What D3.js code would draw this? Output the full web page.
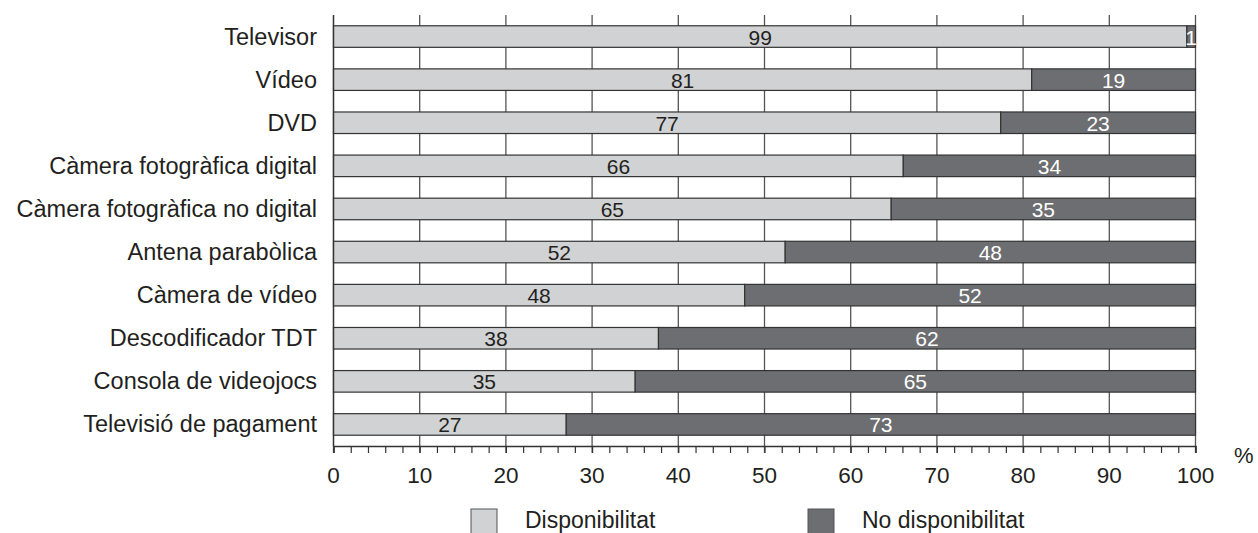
<!DOCTYPE html>
<html>
<head>
<meta charset="utf-8">
<script src="https://cdn.jsdelivr.net/npm/d3@7"></script>
<style>
  body { margin: 0; background: #fff; }
  text { font-family: "Liberation Sans", Arial, sans-serif; fill: #231f20; }
</style>
</head>
<body>
<svg id="chart"></svg>
<script>
var categories = [
  "Televisor", "Vídeo", "DVD", "Càmera fotogràfica digital",
  "Càmera fotogràfica no digital", "Antena parabòlica", "Càmera de vídeo",
  "Descodificador TDT", "Consola de videojocs", "Televisió de pagament"
];
// percentatge amb disponibilitat (llargada real de la barra)
var disponibilitat = [99, 81, 77.4, 66.1, 64.7, 52.4, 47.7, 37.7, 35, 27];
var noDisponibilitat = [1, 19, 22.6, 33.9, 35.3, 47.6, 52.3, 62.3, 65, 73];
var xTicks = [0, 10, 20, 30, 40, 50, 60, 70, 80, 90, 100];
var seriesNames = ["Disponibilitat", "No disponibilitat"];

var width = 1258, height = 533;
var lightColor = "#d1d2d4", darkColor = "#6d6e71";

var svg = d3.select("#chart")
  .attr("width", width)
  .attr("height", height);

var x = d3.scaleLinear()
  .domain([0, 100])
  .range([333.5, 1195.5]);

var y = d3.scaleBand()
  .domain(categories)
  .range([15, 446])
  .paddingInner(0.5)
  .paddingOuter(0.25);

var axisY = 446;

// gridlines verticals
svg.append("g")
  .selectAll("line")
  .data(xTicks)
  .enter().append("line")
  .attr("x1", function (d) { return x(d); })
  .attr("x2", function (d) { return x(d); })
  .attr("y1", 15)
  .attr("y2", axisY + 7)
  .attr("stroke", "#555")
  .attr("stroke-width", 1.3);

// eix inferior amb marques menors
var axis = d3.axisBottom(x)
  .tickValues(d3.range(0, 101, 2))
  .tickSize(7)
  .tickFormat("");
var axisG = svg.append("g")
  .attr("transform", "translate(0," + axisY + ")")
  .call(axis);
axisG.select(".domain").attr("stroke", "#333").attr("stroke-width", 1.3);
axisG.selectAll(".tick line").attr("stroke", "#333").attr("stroke-width", 1.2);

svg.append("g")
  .selectAll("text")
  .data(xTicks)
  .enter().append("text")
  .attr("x", function (d) { return x(d); })
  .attr("y", 483)
  .attr("text-anchor", "middle")
  .attr("font-size", 22.5)
  .text(function (d) { return d; });

svg.append("text")
  .attr("x", 1234)
  .attr("y", 463)
  .attr("font-size", 22)
  .text("%");

// barres
var rows = categories.map(function (c, i) {
  return {cat: c, a: disponibilitat[i], b: noDisponibilitat[i]};
});

var barG = svg.append("g");
var row = barG.selectAll("g")
  .data(rows)
  .enter().append("g");

row.append("rect")
  .attr("x", x(0))
  .attr("y", function (d) { return y(d.cat); })
  .attr("width", function (d) { return x(d.a) - x(0); })
  .attr("height", y.bandwidth())
  .attr("fill", lightColor)
  .attr("stroke", "#333")
  .attr("stroke-width", 1.2);

row.append("rect")
  .attr("x", function (d) { return x(d.a); })
  .attr("y", function (d) { return y(d.cat); })
  .attr("width", function (d) { return x(d.a + d.b) - x(d.a); })
  .attr("height", y.bandwidth())
  .attr("fill", darkColor)
  .attr("stroke", "#333")
  .attr("stroke-width", 1.2);

row.append("text")
  .attr("x", function (d) { return (x(0) + x(d.a)) / 2; })
  .attr("y", function (d) { return y(d.cat) + y.bandwidth() / 2 + 8; })
  .attr("text-anchor", "middle")
  .attr("font-size", 21)
  .text(function (d) { return Math.round(d.a); });

row.append("text")
  .attr("x", function (d) { return (x(d.a) + x(d.a + d.b)) / 2; })
  .attr("y", function (d) { return y(d.cat) + y.bandwidth() / 2 + 8; })
  .attr("text-anchor", "middle")
  .attr("font-size", 21)
  .style("fill", "#fff")
  .text(function (d) { return Math.round(d.b); });

// eix esquerre
svg.append("line")
  .attr("x1", x(0)).attr("x2", x(0))
  .attr("y1", 15).attr("y2", axisY)
  .attr("stroke", "#333")
  .attr("stroke-width", 1.3);

svg.append("g")
  .selectAll("text")
  .data(categories)
  .enter().append("text")
  .attr("x", 317)
  .attr("y", function (d) { return y(d) + y.bandwidth() / 2 + 8; })
  .attr("text-anchor", "end")
  .attr("font-size", 23.5)
  .text(function (d) { return d; });

// llegenda
var legendX = [471, 808];
var legend = svg.append("g")
  .selectAll("g")
  .data(seriesNames)
  .enter().append("g")
  .attr("transform", function (d, i) { return "translate(" + legendX[i] + ",509)"; });
legend.append("rect")
  .attr("width", 26)
  .attr("height", 28)
  .attr("fill", function (d, i) { return i === 0 ? lightColor : darkColor; })
  .attr("stroke", "#555")
  .attr("stroke-width", 1);
legend.append("text")
  .attr("x", 54)
  .attr("y", 18.5)
  .attr("font-size", 23)
  .text(function (d) { return d; });
</script>
</body>
</html>
